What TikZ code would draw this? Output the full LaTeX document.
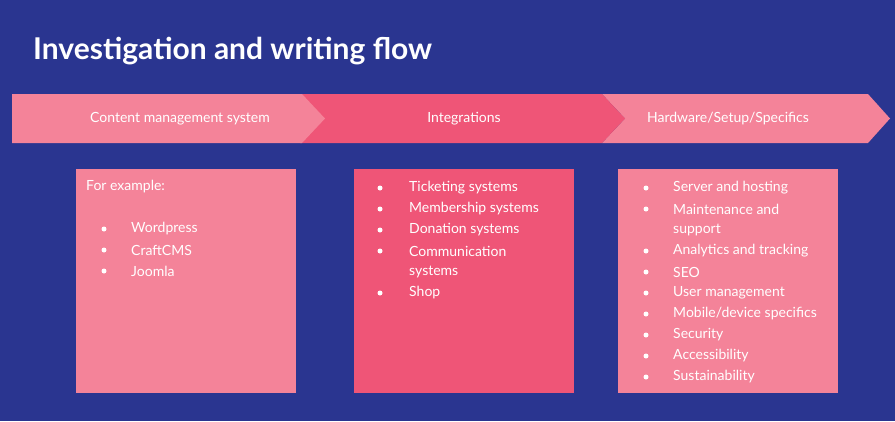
\documentclass[tikz,border=0pt]{standalone}
\usepackage{fontspec}
\setmainfont{Lato}
\definecolor{navy}{HTML}{2A3590}
\definecolor{lpink}{HTML}{F48399}
\definecolor{dpink}{HTML}{EF5577}
\begin{document}
\begin{tikzpicture}[x=1pt,y=-1pt,
  lbl/.style={text=white,font=\fontsize{14}{16}\selectfont,anchor=center},
  itm/.style={text=white,font=\fontsize{14}{16}\selectfont,anchor=west,inner sep=0pt},
  dot/.style={circle,fill=white,inner sep=0pt,minimum size=5pt}]
\fill[navy] (0,0) rectangle (895,421);
\useasboundingbox (0,0) rectangle (895,421);
\node[text=white,font=\fontsize{30}{34}\selectfont\bfseries,anchor=west,inner sep=0pt] (title) at (33,51) {Investigation and writing flow};
\fill[lpink] (602,94) -- (868,94) -- (890,118.5) -- (868,143) -- (602,143) -- (625,118.5) -- cycle;
\fill[dpink] (300,94) -- (602,94) -- (625,118.5) -- (602,143) -- (300,143) -- cycle;
\fill[lpink] (12,94) -- (302,94) -- (325,118.5) -- (302,143) -- (12,143) -- cycle;
\node[lbl] (c1) at (180,119) {Content management system};
\node[lbl] (c2) at (464,119) {Integrations};
\node[lbl] (c3) at (728,119) {Hardware/Setup/Specifics};
\fill[lpink] (76,169) rectangle (296,393);
\fill[dpink] (354,169) rectangle (574,393);
\fill[lpink] (618,169) rectangle (838,393);
\node[itm] (ex) at (86,187) {For example:};
\foreach \t [count=\i] in {Wordpress,CraftCMS,Joomla}{
  \node[dot] at (104,208+21*\i) {};
  \node[itm] (a\i) at (131,208+21*\i) {\t};}
\foreach \t/\y [count=\i] in {Ticketing systems/188,Membership systems/209,Donation systems/230,Communication/251,Shop/293}{
  \node[dot] at (380,\y) {};
  \node[itm] (b\i) at (409,\y) {\t};}
\node[itm] (b6) at (409,272) {systems};
\foreach \t/\y [count=\i] in {Server and hosting/188,Maintenance and/209,Analytics and tracking/251,SEO/272,User management/293,Security/335,Accessibility/356,Sustainability/377}{
  \node[dot] at (646,\y) {};
  \node[itm] (d\i) at (673,\y) {\t};}
\node[dot] at (646,314) {};
\node[itm] (d9) at (673,314) {Mobile/device specifics};
\node[itm] (d10) at (673,230) {support};
\end{tikzpicture}
\end{document}
